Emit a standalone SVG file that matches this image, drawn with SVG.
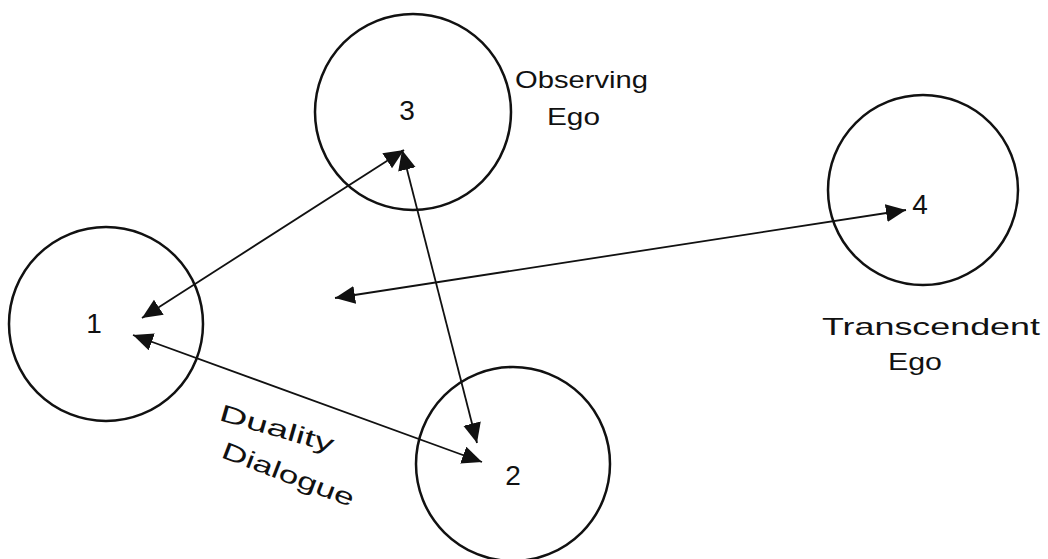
<svg xmlns="http://www.w3.org/2000/svg" width="1048" height="559" viewBox="0 0 1048 559">
<defs>
<marker id="ah" markerUnits="userSpaceOnUse" markerWidth="22" markerHeight="20" refX="20" refY="9" orient="auto-start-reverse">
<path d="M0,0 L20,9 L0,18 z" fill="#111"/>
</marker>
<style>
.node{fill:none;stroke:#111;stroke-width:2.5}
.num{font-family:"Liberation Sans",Arial,sans-serif;font-size:28px;fill:#111;text-anchor:middle}
.lbl{font-family:"Liberation Sans",Arial,sans-serif;font-size:24px;fill:#111}
.conn{stroke:#111;stroke-width:1.8;fill:none;marker-start:url(#ah);marker-end:url(#ah)}
</style>
</defs>
<rect width="1048" height="559" fill="#fff"/>
<g id="node1"><circle class="node" cx="106" cy="324" r="97"/><text class="num" x="94" y="333">1</text></g>
<g id="node2"><circle class="node" cx="513" cy="464" r="97"/><text class="num" x="513" y="485">2</text></g>
<g id="node3"><circle class="node" cx="413" cy="112" r="98"/><text class="num" x="407" y="120">3</text>
<text class="lbl" x="515" y="88" textLength="133" lengthAdjust="spacingAndGlyphs">Observing</text>
<text class="lbl" x="547" y="125" textLength="53" lengthAdjust="spacingAndGlyphs">Ego</text></g>
<g id="node4"><circle class="node" cx="923" cy="190" r="95"/><text class="num" x="920" y="214">4</text>
<text class="lbl" x="822" y="335" textLength="218" lengthAdjust="spacingAndGlyphs">Transcendent</text>
<text class="lbl" x="888" y="370" textLength="54" lengthAdjust="spacingAndGlyphs">Ego</text></g>
<g id="connectors">
<line class="conn" x1="142" y1="318" x2="404" y2="150"/>
<line class="conn" x1="402" y1="150" x2="477" y2="443"/>
<line class="conn" x1="133" y1="335" x2="482" y2="462"/>
<line class="conn" x1="335" y1="298" x2="906" y2="210"/>
</g>
<g id="label-duality">
<text class="lbl" transform="translate(218,420) rotate(16)" font-size="26" textLength="118" lengthAdjust="spacingAndGlyphs">Duality</text>
<text class="lbl" transform="translate(220,457) rotate(21)" font-size="26" textLength="140" lengthAdjust="spacingAndGlyphs">Dialogue</text>
</g>
</svg>
